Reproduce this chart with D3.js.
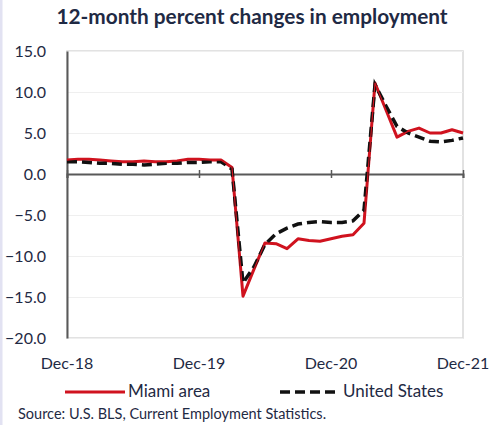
<!DOCTYPE html>
<html>
<head>
<meta charset="utf-8">
<script src="https://cdn.jsdelivr.net/npm/d3@7"></script>
<style>
  body { margin: 0; background: #fff; }
  text { font-family: Lato, "Open Sans", sans-serif; fill: #1f2a44; }
</style>
</head>
<body>
<script>
// 12-month % change, Dec-18 .. Dec-21
var months = d3.range(37);
var tickMonths = [0, 12, 24, 36];
var tickLabels = ['Dec-18', 'Dec-19', 'Dec-20', 'Dec-21'];
var yTicks = [15, 10, 5, 0, -5, -10, -15, -20];

var miami = [1.7, 1.8, 1.8, 1.7, 1.6, 1.5, 1.5, 1.6, 1.5, 1.5, 1.6, 1.8, 1.8,
             1.7, 1.7, 0.8, -14.9, -11.6, -8.4, -8.5, -9.1, -7.9, -8.1, -8.2, -7.9,
             -7.6, -7.4, -6.0, 11.1, 7.8, 4.5, 5.2, 5.6, 5.0, 5.0, 5.4, 5.0];
var us = [1.5, 1.5, 1.4, 1.3, 1.3, 1.2, 1.2, 1.1, 1.2, 1.3, 1.3, 1.4, 1.4,
          1.5, 1.5, 0.6, -13.3, -11.3, -8.6, -7.3, -6.6, -6.1, -5.9, -5.8, -5.9,
          -5.9, -5.7, -4.4, 10.9, 8.3, 5.8, 5.0, 4.5, 4.0, 3.9, 4.1, 4.4];

var W = 491, H = 425;
var plot = {left: 67, right: 463, top: 51, bottom: 338};

var svg = d3.select('body').append('svg')
    .attr('width', W).attr('height', H);

// faint left edge strip
svg.append('rect').attr('x', 0).attr('y', 0).attr('width', 2.5).attr('height', H)
    .attr('fill', '#e2e2f2');

var x = d3.scaleLinear().domain([0, 36]).range([plot.left, plot.right]);
var y = d3.scaleLinear().domain([-20, 15]).range([plot.bottom, plot.top]);

// title
svg.append('text')
    .attr('x', 252).attr('y', 24)
    .attr('text-anchor', 'middle')
    .style('font-size', '20.8px').style('font-weight', 'bold')
    .attr('fill', '#1a1a1a')
    .text('12-month percent changes in employment');

// plot border + grid
svg.append('rect')
    .attr('x', plot.left).attr('y', plot.top)
    .attr('width', plot.right - plot.left).attr('height', plot.bottom - plot.top)
    .attr('fill', 'none').attr('stroke', '#d9d9d9').attr('stroke-width', 1.5);

svg.append('g')
    .attr('transform', 'translate(' + plot.left + ',0)')
    .call(d3.axisRight(y).tickValues(yTicks).tickSize(plot.right - plot.left).tickFormat(''))
    .call(function(g){ g.select('.domain').remove(); })
    .selectAll('line').attr('stroke', '#efefef');

// y axis
var $y = svg.append('g')
    .attr('transform', 'translate(' + plot.left + ',0)')
    .call(d3.axisLeft(y).tickValues(yTicks).tickSize(0).tickPadding(21)
        .tickFormat(d3.format('.1f')));
$y.select('.domain').attr('stroke', '#595959').attr('stroke-width', 2);
$y.selectAll('text').style('font-size', '16px').attr('fill', '#1f2a44');

// x axis at zero
var $x = svg.append('g')
    .attr('transform', 'translate(0,' + y(0) + ')')
    .call(d3.axisBottom(x).tickValues(tickMonths).tickSize(4).tickFormat(''));
$x.select('.domain').attr('stroke', '#595959').attr('stroke-width', 2);
$x.selectAll('line').attr('stroke', '#595959').attr('stroke-width', 1.5)
    .attr('y1', -4);

// x labels along the bottom
svg.append('g').selectAll('text')
    .data(tickMonths)
    .join('text')
    .attr('x', function(d){ return x(d); })
    .attr('y', 369)
    .attr('text-anchor', 'middle')
    .style('font-size', '16px')
    .text(function(d, i){ return tickLabels[i]; });

var line = d3.line()
    .x(function(d, i){ return x(i); })
    .y(function(d){ return y(d); });

svg.append('path').datum(miami)
    .attr('d', line)
    .attr('fill', 'none').attr('stroke', '#d0131f').attr('stroke-width', 3)
    .attr('stroke-linejoin', 'round');

svg.append('path').datum(us)
    .attr('d', line)
    .attr('fill', 'none').attr('stroke', '#111').attr('stroke-width', 3.5)
    .attr('stroke-dasharray', '10,5');

// thin red on top so overlap looks like the reference
svg.append('path').datum(miami)
    .attr('d', line)
    .attr('fill', 'none').attr('stroke', '#d0131f').attr('stroke-width', 1.2)
    .attr('stroke-linejoin', 'round');

// legend
var lg = svg.append('g');
lg.append('line').attr('x1', 65).attr('x2', 125).attr('y1', 392).attr('y2', 392)
    .attr('stroke', '#d0131f').attr('stroke-width', 3);
lg.append('text').attr('x', 128).attr('y', 397).style('font-size', '17px').text('Miami area');
lg.append('line').attr('x1', 280).attr('x2', 340).attr('y1', 392).attr('y2', 392)
    .attr('stroke', '#111').attr('stroke-width', 3.5).attr('stroke-dasharray', '10,5');
lg.append('text').attr('x', 343).attr('y', 397).style('font-size', '17px').text('United States');

svg.append('text').attr('x', 18).attr('y', 419)
    .style('font-size', '14.5px').attr('fill', '#3a3a3a')
    .text('Source: U.S. BLS, Current Employment Statistics.');
</script>
</body>
</html>
